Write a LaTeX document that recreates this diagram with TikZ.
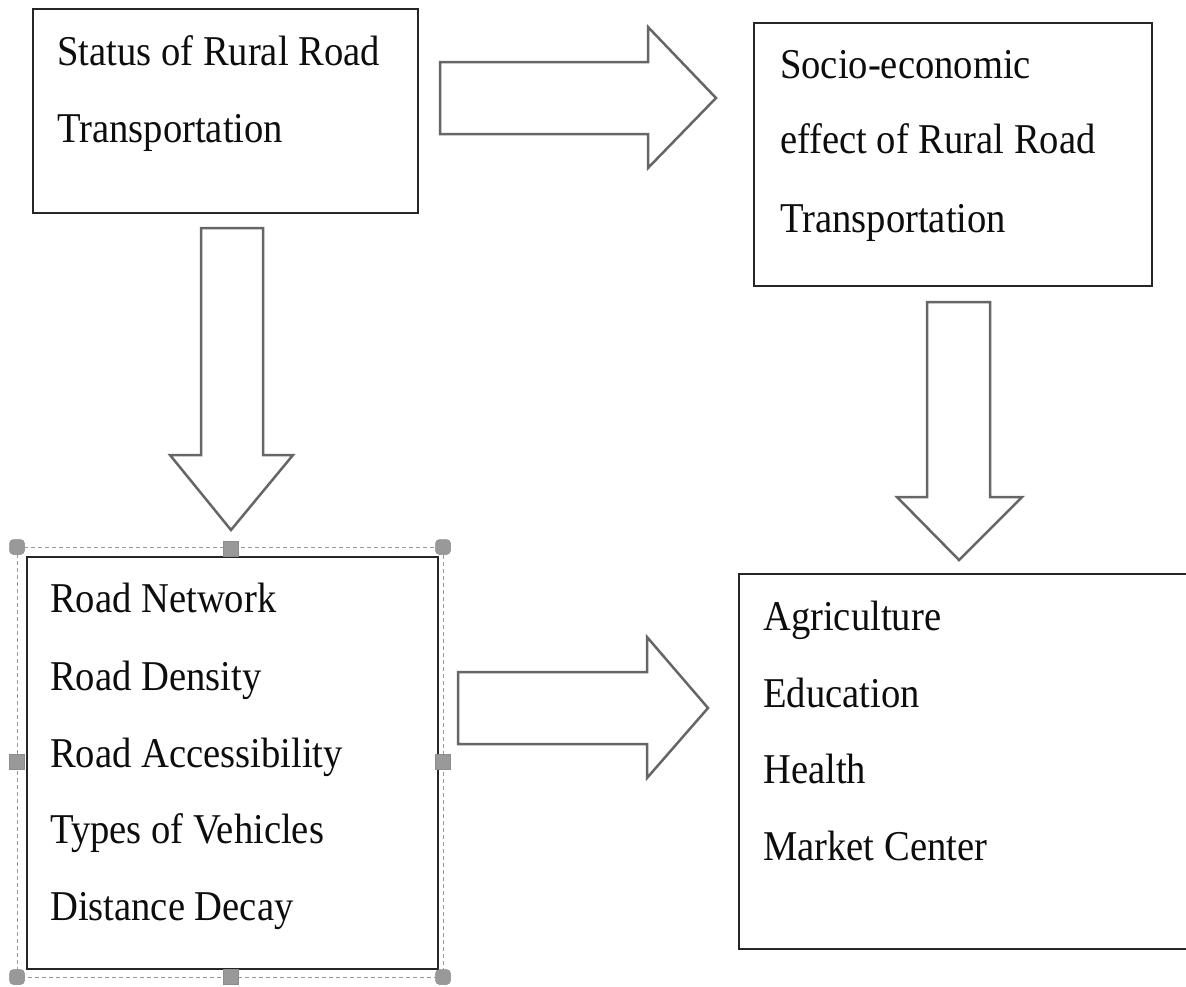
\documentclass[tikz,border=0pt]{standalone}
\usepackage{fontspec}
\usepackage{graphicx}
\setmainfont{Liberation Serif}
\newcommand{\tallline}[1]{\scalebox{1}[1.1]{#1}}
\begin{document}
\begin{tikzpicture}[x=1pt,y=-1pt,
  box/.style={draw=black!85, line width=2pt, inner sep=0pt, anchor=north west},
  blockarrow/.style={draw=black!60, line width=2.5pt, line join=miter, fill=white},
  lbl/.style={anchor=base west, inner sep=0pt, font=\fontsize{38.6}{46}\selectfont, text=black!95},
  handle/.style={fill=gray!80, draw=gray!90, line width=0.5pt, minimum size=15pt, inner sep=0pt},
  cornerhandle/.style={handle, rounded corners=4pt},
  selframe/.style={draw=gray!80, line width=1pt, dash pattern=on 4pt off 3pt}]
\useasboundingbox (0,0) rectangle (1186,986);

% boxes
\node[box, minimum width=385pt, minimum height=204pt] (b1) at (32,8) {};
\node[box, minimum width=398pt, minimum height=263pt] (b2) at (753,22) {};
\node[box, minimum width=411pt, minimum height=412pt] (b3) at (26,556) {};
\node[box, minimum width=470pt, minimum height=375pt] (b4) at (738,573) {};

% texts
\node[lbl] (t1a) at (57,65) {\tallline{Status of Rural Road}};
\node[lbl] (t1b) at (57,142) {\tallline{Transportation}};
\node[lbl] (t2a) at (780,78) {\tallline{Socio-economic}};
\node[lbl] (t2b) at (780,153) {\tallline{effect of Rural Road}};
\node[lbl] (t2c) at (780,232) {\tallline{Transportation}};
\node[lbl] (t3a) at (50,612) {\tallline{Road Network}};
\node[lbl] (t3b) at (50,690) {\tallline{Road Density}};
\node[lbl] (t3c) at (50,767) {\tallline{Road Accessibility}};
\node[lbl] (t3d) at (50,843) {\tallline{Types of Vehicles}};
\node[lbl] (t3e) at (50,920) {\tallline{Distance Decay}};
\node[lbl] (t4a) at (763,630) {\tallline{Agriculture}};
\node[lbl] (t4b) at (763,707) {\tallline{Education}};
\node[lbl] (t4c) at (763,783) {\tallline{Health}};
\node[lbl] (t4d) at (763,860) {\tallline{Market Center}};

% block arrows
\draw[blockarrow] (440,62) -- (648,62) -- (648,27) -- (716,98) -- (648,168) -- (648,134) -- (440,134) -- cycle;
\draw[blockarrow] (201,228) -- (263,228) -- (263,455) -- (293,455) -- (231,530) -- (170,455) -- (201,455) -- cycle;
\draw[blockarrow] (927,302) -- (990,302) -- (990,497) -- (1022,497) -- (959,560) -- (897,497) -- (927,497) -- cycle;
\draw[blockarrow] (458,672) -- (647,672) -- (647,637) -- (708,708) -- (647,778) -- (647,744) -- (458,744) -- cycle;

% selection frame around b3
\draw[selframe] (17,547) rectangle (443,977);
\node[cornerhandle] (h1) at (17,547) {};
\node[cornerhandle] (h2) at (443,547) {};
\node[cornerhandle] (h3) at (17,977) {};
\node[cornerhandle] (h4) at (443,977) {};
\node[handle] (h5) at (231,549) {};
\node[handle] (h6) at (231,977) {};
\node[handle] (h7) at (17,762) {};
\node[handle] (h8) at (443,762) {};
\end{tikzpicture}
\end{document}
